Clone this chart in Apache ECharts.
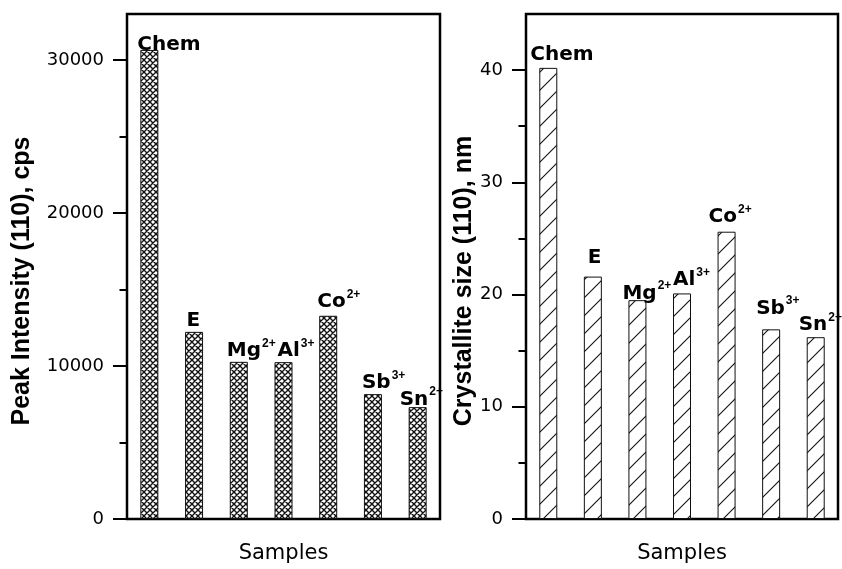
<!DOCTYPE html>
<html><head><meta charset="utf-8">
<script src="https://cdn.jsdelivr.net/npm/echarts@6/dist/echarts.min.js"></script>
<style>html,body{margin:0;padding:0;background:#fff}#c{width:842px;height:569px}</style>
</head><body><div id="c"></div>
<script>
// ---- data ----
const categories = ['Chem', 'E', 'Mg2+', 'Al3+', 'Co2+', 'Sb3+', 'Sn2+'];
const labelMain = ['Chem', 'E', 'Mg', 'Al', 'Co', 'Sb', 'Sn'];
const labelSup = ['', '', '2+', '3+', '2+', '3+', '2+'];
const peakIntensity = [30650, 12230, 10270, 10250, 13280, 8160, 7310];
const crystalliteSize = [40.2, 21.6, 19.5, 20.1, 25.6, 16.9, 16.2];
const leftMajorTicks = [0, 10000, 20000, 30000];
const leftMinorTicks = [5000, 15000, 25000];
const rightMajorTicks = [0, 10, 20, 30, 40];
const rightMinorTicks = [5, 15, 25, 35];
const leftMax = 33000;
const rightMax = 45;
const leftTitle = 'Peak Intensity (110), cps';
const rightTitle = 'Crystallite size (110), nm';
const xTitle = 'Samples';

// ---- style: label nudges [dx, dy] relative to bar top-left ----
const leftLabelNudge = [[-3, 8], [1.5, 2], [-3, 2.5], [3, 2.5], [-2, 0], [-2, 2.5], [-9, 6]];
const rightLabelNudge = [[-9, 0], [4, -5], [-6, 7], [0, 0], [-9, -1.5], [-6, -7.5], [-8, 1]];

function crossPattern() {
  const n = 6, c = document.createElement('canvas');
  c.width = n; c.height = n;
  const g = c.getContext('2d');
  g.fillStyle = '#fff'; g.fillRect(0, 0, n, n);
  g.strokeStyle = '#111'; g.lineWidth = 1.4;
  g.beginPath();
  for (let k = -2; k <= 3; k++) {
    g.moveTo(k * n - 1, -1); g.lineTo(k * n + n + 1, n + 1);
    g.moveTo(k * n + 1, -1); g.lineTo(k * n - n - 1, n + 1);
  }
  g.stroke();
  return { image: c, repeat: 'repeat' };
}
function slashPattern() {
  const n = 18, c = document.createElement('canvas');
  c.width = n; c.height = n;
  const g = c.getContext('2d');
  g.fillStyle = '#fff'; g.fillRect(0, 0, n, n);
  g.strokeStyle = '#111'; g.lineWidth = 1.1;
  g.beginPath();
  for (let k = -1; k <= 2; k++) {
    g.moveTo(k * n - 2 - n, n + 2); g.lineTo(k * n + 2, -2);
  }
  g.stroke();
  return { image: c, repeat: 'repeat' };
}

const rich = {
  b: { fontFamily: 'DejaVu Sans', fontWeight: 'bold', fontSize: 20, lineHeight: 27, color: '#000' },
  s: { fontFamily: 'Liberation Sans', fontWeight: 'bold', fontSize: 12, verticalAlign: 'top', color: '#000', padding: [0, 0, 0, 1] }
};
const fmt = p => '{b|' + labelMain[p.dataIndex] + '}' + (labelSup[p.dataIndex] ? '{s|' + labelSup[p.dataIndex] + '}' : '');

function grid(left) {
  return { left: left, top: 14, width: left < 300 ? 313 : 312, height: 511, show: true,
    borderColor: '#000', borderWidth: 2.5, backgroundColor: 'transparent', containLabel: false };
}
function xAx(gi) {
  return { type: 'category', gridIndex: gi, data: categories, boundaryGap: true,
    axisLine: { show: false }, axisTick: { show: false }, axisLabel: { show: false },
    name: xTitle, nameLocation: 'middle', nameGap: 24,
    nameTextStyle: { fontFamily: 'DejaVu Sans', fontSize: 21, color: '#000' } };
}
function yMajor(gi, max, ticks, title, gap) {
  return { type: 'value', gridIndex: gi, min: 0, max: max, position: 'left',
    axisLine: { show: false }, splitLine: { show: false },
    axisTick: { show: true, customValues: ticks, length: 14, lineStyle: { color: '#000', width: 2 } },
    axisLabel: { show: true, customValues: ticks, margin: 23, fontFamily: 'DejaVu Sans', fontSize: 18, color: '#000',
      formatter: v => String(v) },
    name: title, nameLocation: 'middle', nameGap: gap,
    nameTextStyle: { fontFamily: 'Liberation Sans', fontWeight: 'bold', fontSize: 25, color: '#000', padding: [0, 29, 0, 0] } };
}
function yMinor(gi, max, ticks) {
  return { type: 'value', gridIndex: gi, min: 0, max: max, position: 'left', offset: 0,
    axisLine: { show: false }, splitLine: { show: false }, axisLabel: { show: false },
    axisTick: { show: true, customValues: ticks, length: 7.5, lineStyle: { color: '#000', width: 2 } } };
}
function barSeries(xi, yi, values, nudge, pattern) {
  return { type: 'bar', xAxisIndex: xi, yAxisIndex: yi, barWidth: 18,
    data: values.map((v, i) => ({ value: v, label: { position: nudge[i] } })),
    itemStyle: { color: pattern, borderColor: '#111', borderWidth: 1 },
    label: { show: true, align: 'left', verticalAlign: 'bottom', formatter: fmt, rich: rich } };
}

const chart = echarts.init(document.getElementById('c'), null, { renderer: 'canvas' });
chart.setOption({
  animation: false,
  backgroundColor: '#fff',
  grid: [grid(127), grid(526)],
  xAxis: [xAx(0), xAx(1)],
  yAxis: [
    yMajor(0, leftMax, leftMajorTicks, leftTitle, 92),
    yMinor(0, leftMax, leftMinorTicks),
    yMajor(1, rightMax, rightMajorTicks, rightTitle, 48),
    yMinor(1, rightMax, rightMinorTicks)
  ],
  series: [
    barSeries(0, 0, peakIntensity, leftLabelNudge, crossPattern()),
    barSeries(1, 2, crystalliteSize, rightLabelNudge, slashPattern())
  ]
});
</script></body></html>
